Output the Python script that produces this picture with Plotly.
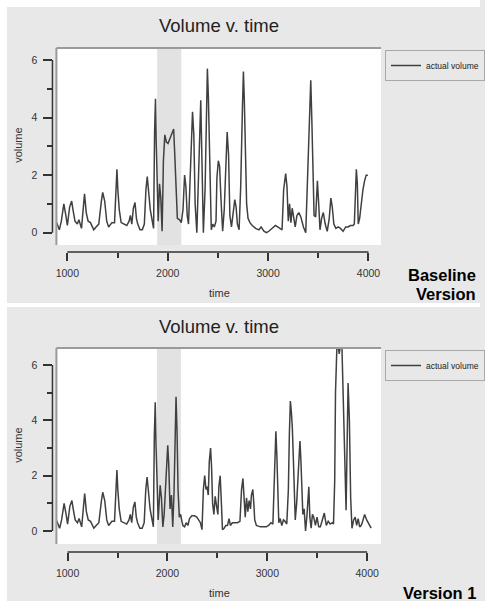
import plotly.graph_objects as go

# ---------------- data ----------------
# shared part of the series (identical in both versions)
t_common = [890, 920, 940, 965, 985, 1000, 1023, 1043, 1056, 1076, 1099, 1115, 1141, 1158, 1171,
            1188, 1207, 1230, 1263, 1286, 1313, 1339, 1352, 1372, 1392, 1411, 1444, 1470, 1484, 1494,
            1503, 1517, 1536, 1569, 1592, 1615, 1628, 1642, 1658, 1674, 1688, 1701, 1724, 1747, 1767,
            1783, 1796, 1813, 1826, 1846, 1859, 1869, 1878, 1885]
v_common = [0.38, 0.1, 0.4, 1.0, 0.6, 0.25, 0.9, 1.1, 0.8, 0.4, 0.3, 0.45, 0.15, 1.0, 1.35,
            0.7, 0.4, 0.35, 0.1, 0.2, 0.3, 1.1, 1.4, 1.1, 0.4, 0.2, 0.35, 0.35, 1.7, 2.2,
            1.5, 0.8, 0.35, 0.3, 0.25, 0.4, 0.6, 0.3, 0.85, 1.05, 0.5, 0.3, 0.1, 0.1, 0.3,
            1.5, 1.95, 1.3, 0.8, 0.4, 0.15, 3.5, 4.65, 3.2]

# Baseline version, remainder
t_base = [1895, 1905, 1918, 1931, 1944, 1957, 1971, 1987, 2003, 2023, 2043, 2059, 2069, 2086, 2096,
          2119, 2135, 2152, 2168, 2181, 2194, 2207, 2221, 2234, 2247, 2260, 2273, 2290, 2306, 2319,
          2329, 2342, 2355, 2372, 2385, 2395, 2405, 2415, 2425, 2434, 2448, 2464, 2481, 2490, 2504,
          2517, 2530, 2547, 2563, 2580, 2592, 2606, 2619, 2635, 2652, 2668, 2681, 2694, 2711, 2727,
          2744, 2754, 2763, 2777, 2786, 2800, 2819, 2842, 2875, 2908, 2931, 2958, 2984, 3007, 3040,
          3073, 3096, 3122, 3139, 3155, 3175, 3188, 3201, 3214, 3227, 3240, 3254, 3270, 3287, 3306,
          3326, 3352, 3375, 3392, 3405, 3415, 3425, 3435, 3444, 3458, 3474, 3491, 3504, 3517, 3533,
          3550, 3569, 3589, 3609, 3625, 3639, 3655, 3675, 3698, 3721, 3747, 3773, 3797, 3820, 3846,
          3859, 3869, 3879, 3889, 3898, 3912, 3928, 3945, 3961, 3977, 3994]
v_base = [1.5, 0.4, 1.7, 1.2, 0.05, 2.5, 3.4, 3.15, 3.1, 3.3, 3.5, 3.6, 2.8, 1.2, 0.5,
          0.45, 0.35, 0.8, 2.0, 1.6, 0.6, 0.3, 1.7, 3.4, 4.2, 3.4, 1.0, 0.0, 1.5, 3.4,
          4.6, 2.8, 0.0, 1.5, 4.3, 5.7, 4.7, 2.8, 0.8, 0.1, 0.3, 0.2, 0.4, 1.9, 2.5,
          2.3, 1.2, 0.05, 0.8, 2.6, 3.5, 2.7, 0.6, 0.2, 0.8, 1.15, 0.9, 0.3, 0.1, 1.6,
          4.3, 5.6, 4.6, 2.6, 1.0, 0.5, 0.35, 0.25, 0.15, 0.1, 0.2, 0.05, 0.0, 0.05, 0.15,
          0.25, 0.2, 0.15, 0.1, 1.5, 2.05, 1.6, 0.4, 1.0, 0.35, 0.85, 0.5, 0.2, 0.6, 0.7,
          0.55, 0.2, 0.0, 1.7, 3.0, 4.5, 5.3, 4.0, 2.5, 0.6, 0.55, 1.8, 1.0, 0.1, 0.5,
          0.7, 0.3, 0.05, 0.5, 1.2, 0.9, 0.3, 0.15, 0.2, 0.15, 0.05, 0.2, 0.2, 0.25, 0.25,
          0.3, 1.7, 2.2, 1.7, 0.3, 0.5, 1.0, 1.5, 1.8, 2.0, 2.0]

# Version 1, remainder
t_v1 = [1894, 1907, 1927, 1940, 1954, 1967, 1980, 1993, 2003, 2013, 2026, 2040, 2053, 2066, 2076,
        2086, 2096, 2106, 2119, 2132, 2145, 2155, 2172, 2188, 2205, 2221, 2244, 2271, 2294, 2313,
        2330, 2346, 2360, 2373, 2386, 2396, 2409, 2419, 2432, 2442, 2452, 2465, 2478, 2492, 2505,
        2515, 2528, 2538, 2551, 2568, 2584, 2601, 2617, 2630, 2650, 2673, 2700, 2726, 2742, 2756,
        2766, 2779, 2792, 2805, 2818, 2832, 2841, 2855, 2865, 2874, 2891, 2931, 2964, 2990, 3013,
        3036, 3056, 3066, 3076, 3086, 3096, 3105, 3115, 3129, 3145, 3162, 3178, 3195, 3211, 3221,
        3231, 3241, 3251, 3261, 3270, 3280, 3294, 3307, 3317, 3327, 3336, 3346, 3356, 3369, 3383,
        3396, 3406, 3416, 3426, 3439, 3452, 3465, 3482, 3498, 3515, 3531, 3551, 3571, 3591, 3610,
        3630, 3650, 3663, 3675, 3683, 3700, 3720, 3745, 3760, 3775, 3789, 3809, 3822, 3835, 3848,
        3865, 3880, 3895, 3910, 3925, 3940, 3955, 3975, 3995, 4040]
v_v1 = [1.5, 0.4, 1.65, 1.2, 0.15, 0.6, 1.5, 2.5, 3.1, 2.4, 0.8, 1.3, 0.15, 1.4, 3.7,
        4.85, 3.6, 1.5, 0.5, 0.6, 0.35, 0.2, 0.15, 0.3, 0.2, 0.45, 0.55, 0.55, 0.5, 0.4,
        0.3, 0.05, 1.5, 2.0, 1.5, 1.6, 1.3, 2.5, 3.0, 2.3, 1.0, 0.6, 1.25, 0.9, 0.6,
        1.6, 2.0, 1.2, 0.05, 0.1, 0.2, 0.2, 0.45, 0.2, 0.3, 0.3, 0.3, 0.35, 1.5, 1.9,
        1.1, 0.5, 1.2, 0.7, 1.1, 0.8, 1.3, 1.5, 1.0, 0.4, 0.2, 0.15, 0.15, 0.15, 0.2,
        0.3, 0.25, 1.5, 2.7, 3.6, 2.7, 1.1, 0.3, 0.45, 0.2, 0.4, 0.35, 0.25, 1.5, 3.5,
        4.7, 4.3, 3.7, 2.6, 1.2, 0.4, 1.0, 2.0, 2.6, 3.25, 2.6, 1.5, 0.6, 0.8, 0.0,
        0.5, 1.2, 1.6, 0.5, 0.1, 0.6, 0.5, 0.2, 0.5, 0.15, 0.15, 0.4, 0.65, 0.2, 0.35,
        0.25, 0.3, 0.25, 1.8, 5.0, 7.0, 6.4, 7.0, 4.9, 2.1, 0.75, 5.35, 4.0, 1.2, 0.1,
        0.4, 0.5, 0.2, 0.45, 0.15, 0.2, 0.35, 0.6, 0.4, 0.1]

SHADE_START, SHADE_END = 1895, 2135
TITLE = "Volume v. time"
LEGEND_NAME = "actual volume"
LABELS = ["Baseline", "Version", "Version 1"]

# ---------------- figure ----------------
W, H = 485, 601
def px(x):
    return x / W
def py(y):
    return 1 - y / H

FONT = "Liberation Sans, Arial, sans-serif"
LINE_COLOR = "#404040"
AX_COLOR = "#333333"

fig = go.Figure()
fig.add_trace(go.Scatter(x=t_common + t_base, y=v_common + v_base, mode="lines",
                         name=LEGEND_NAME, line=dict(color=LINE_COLOR, width=1.5),
                         xaxis="x", yaxis="y", legend="legend"))
fig.add_trace(go.Scatter(x=t_common + t_v1, y=v_common + v_v1, mode="lines",
                         name=LEGEND_NAME, line=dict(color=LINE_COLOR, width=1.5),
                         xaxis="x2", yaxis="y2", legend="legend2"))

xdom = [px(57), px(385)]
panels = [
    # (xaxis key, yaxis key, ref suffix, y-domain, x-range, y-range, x-axis pos, top px)
    ("xaxis", "yaxis", "", [py(245), py(48)], [891, 4125], [-0.427, 6.417], py(252), 0),
    ("xaxis2", "yaxis2", "2", [py(544), py(348)], [888, 4139], [-0.47, 6.614], py(552), 300),
]

tickfont = dict(family=FONT, size=10.5, color=AX_COLOR)
shapes = []
annotations = []
layout_axes = {}
for xk, yk, sfx, ydom, xr, yr, xpos, off in panels:
    layout_axes[xk] = dict(domain=xdom, range=xr, anchor="free", position=xpos,
                           showgrid=False, zeroline=False, showline=False,
                           tickmode="linear", tick0=0, dtick=1000,
                           ticks="outside", ticklen=8, tickwidth=1.5, tickcolor=AX_COLOR,
                           minor=dict(dtick=500, ticks="outside", ticklen=5, tickwidth=1.5,
                                      tickcolor=AX_COLOR, showgrid=False),
                           tickfont=tickfont, ticklabelstandoff=3)
    layout_axes[yk] = dict(domain=ydom, range=yr, anchor="free", position=px(53),
                           showgrid=False, zeroline=False, showline=False,
                           tickmode="linear", tick0=0, dtick=2,
                           ticks="outside", ticklen=9, tickwidth=1.5, tickcolor=AX_COLOR,
                           minor=dict(dtick=1, ticks="outside", ticklen=5, tickwidth=1.5,
                                      tickcolor=AX_COLOR, showgrid=False),
                           tickfont=tickfont, ticklabelstandoff=4)
    xref, yref = "x" + sfx, "y" + sfx
    # highlighted window
    shapes.append(dict(type="rect", xref=xref, yref=yref + " domain", x0=SHADE_START, x1=SHADE_END,
                       y0=0, y1=1, fillcolor="#e2e2e2", line=dict(width=0), layer="below"))
    # R-style axis lines spanning the tick range only
    shapes.append(dict(type="line", xref="paper", yref=yref, x0=px(53), x1=px(53), y0=0, y1=6,
                       line=dict(color=AX_COLOR, width=1.5)))
    shapes.append(dict(type="line", xref=xref, yref="paper", x0=1000, x1=4000, y0=xpos, y1=xpos,
                       line=dict(color=AX_COLOR, width=1.5)))
    # bevel on top/left of plot panel
    shapes.append(dict(type="line", xref="paper", yref="paper", x0=xdom[0], x1=xdom[1],
                       y0=ydom[1], y1=ydom[1], line=dict(color="#9a9a9a", width=2)))
    shapes.append(dict(type="line", xref="paper", yref="paper", x0=xdom[0], x1=xdom[0],
                       y0=ydom[0], y1=ydom[1], line=dict(color="#9a9a9a", width=2)))
    # titles and axis labels
    annotations.append(dict(text=TITLE, xref="paper", yref="paper", x=px(221), y=py(26 + off),
                            xanchor="center", yanchor="middle", showarrow=False,
                            font=dict(family=FONT, size=18.5, color="#222222")))
    annotations.append(dict(text="volume", xref="paper", yref="paper", x=px(18), y=py(145 + off),
                            xanchor="center", yanchor="middle", showarrow=False, textangle=-90,
                            font=dict(family=FONT, size=11, color=AX_COLOR)))
    annotations.append(dict(text="time", xref="paper", yref="paper", x=px(222), y=py(293 + off),
                            xanchor="center", yanchor="middle", showarrow=False,
                            font=dict(family=FONT, size=11, color=AX_COLOR)))

# version labels
annotations.append(dict(text="<b>%s</b>" % LABELS[0], xref="paper", yref="paper", x=px(483), y=py(275),
                        xanchor="right", yanchor="middle", showarrow=False,
                        font=dict(family=FONT, size=16.5, color="#000000")))
annotations.append(dict(text="<b>%s</b>" % LABELS[1], xref="paper", yref="paper", x=px(483), y=py(293.5),
                        xanchor="right", yanchor="middle", showarrow=False,
                        font=dict(family=FONT, size=16.5, color="#000000")))
annotations.append(dict(text="<b>%s</b>" % LABELS[2], xref="paper", yref="paper", x=px(483), y=py(593),
                        xanchor="right", yanchor="middle", showarrow=False,
                        font=dict(family=FONT, size=16.5, color="#000000")))

# white frame strips
shapes.append(dict(type="rect", xref="paper", yref="paper", x0=0, x1=px(7), y0=0, y1=1,
                   fillcolor="white", line=dict(width=0), layer="below"))
shapes.append(dict(type="rect", xref="paper", yref="paper", x0=0, x1=1, y0=py(7), y1=1,
                   fillcolor="white", line=dict(width=0), layer="below"))
shapes.append(dict(type="rect", xref="paper", yref="paper", x0=0, x1=1, y0=py(307), y1=py(303),
                   fillcolor="white", line=dict(width=0), layer="below"))

legend_style = dict(xanchor="left", yanchor="top", bgcolor="#e8e8e8", bordercolor="#a8a8a8",
                    borderwidth=1, font=dict(family=FONT, size=8.5, color="#222222"),
                    itemwidth=30)

fig.update_layout(
    width=W, height=H, autosize=False,
    margin=dict(l=0, r=0, t=0, b=0),
    paper_bgcolor="#e8e8e8", plot_bgcolor="white",
    showlegend=True,
    legend=dict(x=px(389), y=py(50), **legend_style),
    legend2=dict(x=px(389), y=py(350), **legend_style),
    shapes=shapes, annotations=annotations,
    **layout_axes,
)

fig.write_html("out.html", config={"displayModeBar": False},
               post_script="document.body.style.margin='0';document.body.style.overflow='hidden';")
